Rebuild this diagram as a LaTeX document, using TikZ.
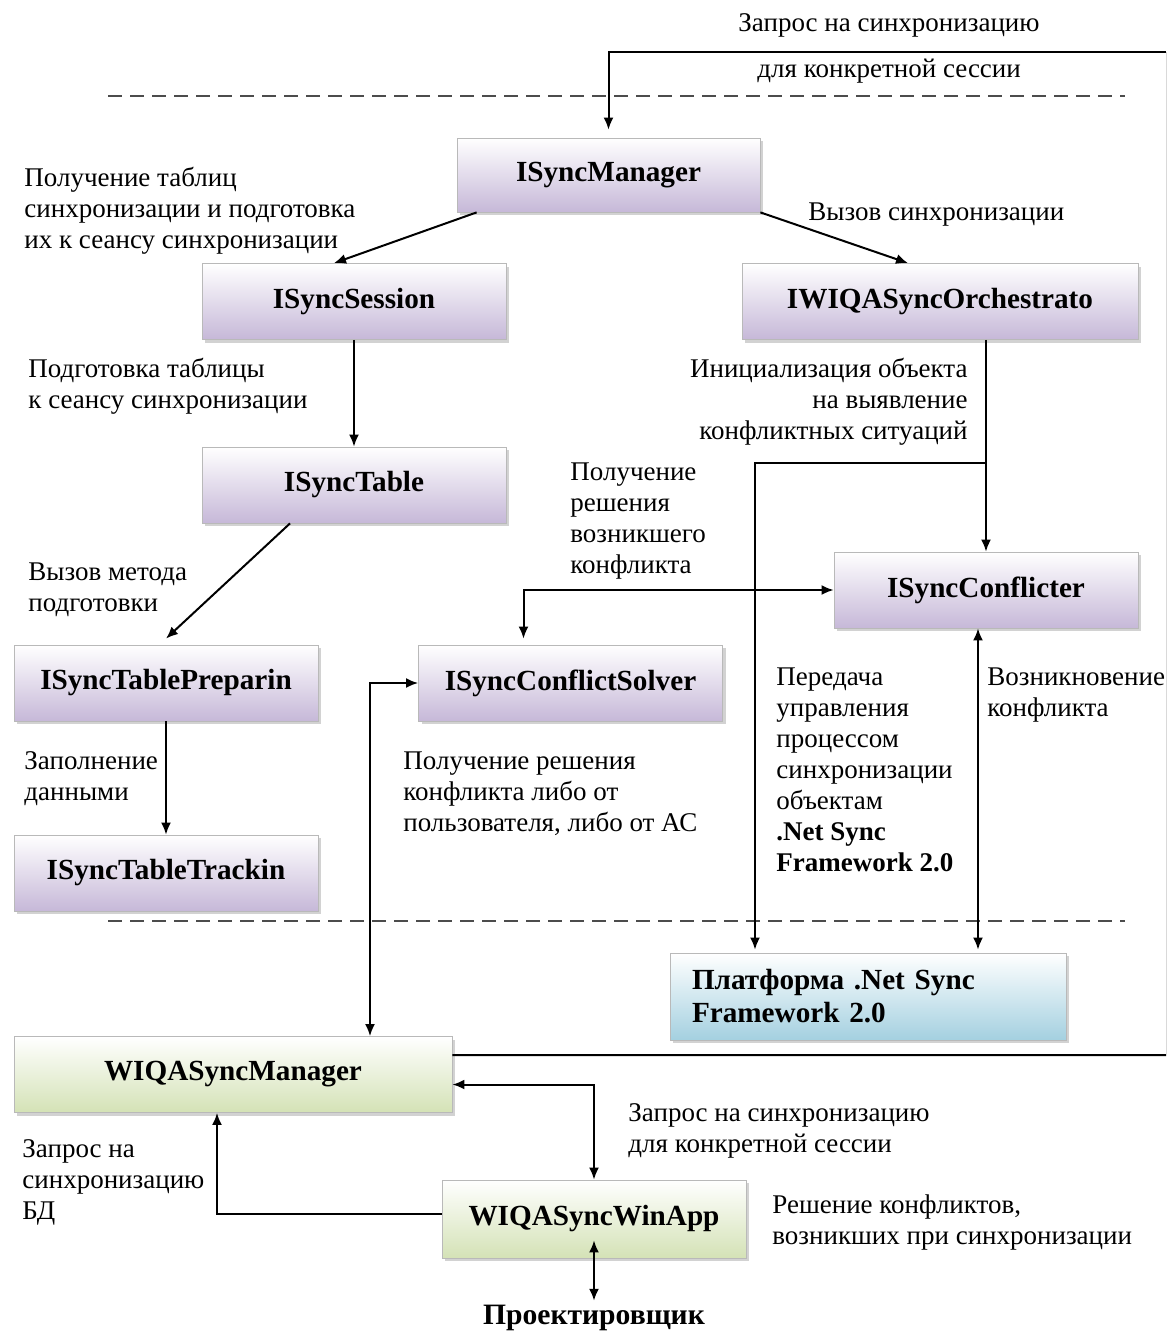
\documentclass[tikz,border=0pt]{standalone}
\usepackage{fontspec}
\setmainfont{Liberation Serif}
\usetikzlibrary{arrows.meta,shadows}
\definecolor{lilac}{RGB}{198,184,216}
\definecolor{sage}{RGB}{212,226,182}
\definecolor{skyish}{RGB}{164,208,224}

\begin{document}
\begin{tikzpicture}[x=0.5pt,y=-0.5pt,
		font=\fontsize{13.5}{15.5}\selectfont,
		box/.style={draw=gray!55, top color=white, minimum height=38pt, inner sep=2pt,
			font=\fontsize{14.6}{16.5}\selectfont\bfseries,
			drop shadow={shadow xshift=1.5pt, shadow yshift=-1.5pt, opacity=0.35}},
		ibox/.style={box, bottom color=lilac, minimum width=152pt},
		appbox/.style={box, bottom color=sage},
		note/.style={anchor=north west, align=left, inner sep=0pt},
		conn/.style={line width=1pt, -{Latex[length=6pt,width=5pt]}},
		both/.style={line width=1pt, {Latex[length=6pt,width=5pt]}-{Latex[length=6pt,width=5pt]}},
		zone/.style={line width=1pt, gray!60!black, dash pattern=on 7pt off 4pt}]
		\fill[white] (0,0) rectangle (1169,1334);
		\useasboundingbox (0,0) rectangle (1169,1334);
		% level borders
		\draw[zone] (108,96) -- (1125,96);
		\draw[zone] (108,921) -- (1125,921);
		% interfaces
		\node[ibox, minimum width=151.5pt, minimum height=37pt] (mgr) at (608.5,175) {ISyncManager};
		\node[ibox] (sess) at (354,301.5) {ISyncSession};
		\node[ibox, minimum width=198pt] (orch) at (940,301.5) {IWIQASyncOrchestrato};
		\node[ibox] (tbl) at (354,485) {ISyncTable};
		\node[ibox] (confl) at (986,590) {ISyncConflicter};
		\node[ibox] (prep) at (166,683) {ISyncTablePreparin};
		\node[ibox] (solver) at (570.5,683) {ISyncConflictSolver};
		\node[ibox] (track) at (166,873) {ISyncTableTrackin};
		\node[box, bottom color=skyish, minimum width=198pt, minimum height=43.5pt,
			inner xsep=11pt, text width=176pt, align=left] (plat) at (868,996.5)
			{Платформа .Net Sync\\Framework 2.0};
		\node[appbox, minimum width=219pt] (wmgr) at (233,1074.5) {WIQASyncManager};
		\node[appbox, minimum width=152pt, minimum height=39pt] (winapp) at (594,1219) {WIQASyncWinApp};
		\node[font=\fontsize{14.8}{16.5}\selectfont\bfseries, inner sep=2pt] (designer) at (594,1318) {Проектировщик};
		% captions
		\node[note] (reqtop) at (738,13) {Запрос на синхронизацию};
		\node[note] (reqtopb) at (757,59) {для конкретной сессии};
		\node[note] (gettab) at (24,167) {Получение таблиц\\синхронизации и подготовка\\их к сеансу синхронизации};
		\node[note] (callsync) at (808,202) {Вызов синхронизации};
		\node[note] (preptab) at (28,358) {Подготовка таблицы\\к сеансу синхронизации};
		\node[note, anchor=north east, align=right] (initobj) at (968,358) {Инициализация объекта\\на выявление\\конфликтных ситуаций};
		\node[note] (getsol) at (570,462) {Получение\\решения\\возникшего\\конфликта};
		\node[note] (callprep) at (28,562) {Вызов метода\\подготовки};
		\node[note] (handover) at (776,667) {Передача\\управления\\процессом\\синхронизации\\объектам\\\textbf{.Net Sync}\\\textbf{Framework 2.0}};
		\node[note] (arise) at (987,667) {Возникновение\\конфликта};
		\node[note] (filldata) at (24,751) {Заполнение\\данными};
		\node[note] (solvefrom) at (403,751) {Получение решения\\конфликта либо от\\пользователя, либо от АС};
		\node[note] (reqsess) at (628,1103) {Запрос на синхронизацию\\для конкретной сессии};
		\node[note] (reqdb) at (22,1139) {Запрос на\\синхронизацию\\БД};
		\node[note] (resolve) at (772,1194) {Решение конфликтов,\\возникших при синхронизации};
		% connectors
		\coordinate (rb) at (1166,1055);
		\coordinate (rt) at (1166,52);
		\coordinate (split) at (986,463);
		\draw[line width=1pt] ([yshift=-9.5pt]wmgr.north east) -- (rb);
		\draw[gray!30] (rb) -- (rt);
		\draw[conn, shorten >=4pt] (rt) -| (mgr.north);
		\draw[conn] ([xshift=10pt]mgr.south west) -- ([xshift=-10pt]sess.north);
		\draw[conn] (mgr.south east) -- ([xshift=-16pt]orch.north);
		\draw[conn] (sess.south) -- (tbl.north);
		\draw[conn] ([xshift=-32pt]tbl.south) -- ([yshift=3pt]prep.north);
		\draw[conn] (prep.south) -- (track.north);
		\draw[conn] (orch.south -| confl.north) -- (confl.north);
		\draw[conn] (split) -| ([xshift=-56.5pt, yshift=1.5pt]plat.north);
		\draw[both, shorten <=3pt] ([xshift=-23.5pt]solver.north) |- (confl.west);
		\draw[both] ([xshift=-4pt]confl.south) -- ([xshift=-4pt, yshift=1.5pt]confl.south |- plat.north);
		\draw[both] ([xshift=68.5pt]wmgr.north) |- (solver.west);
		\draw[both] ([yshift=-5pt]wmgr.east) -| (winapp.north);
		\draw[conn] ([yshift=2.5pt]winapp.west) -| ([xshift=-8pt]wmgr.south);
		\draw[both] ([yshift=9pt]winapp.south) -- (designer.north);
	\end{tikzpicture}
\end{document}
